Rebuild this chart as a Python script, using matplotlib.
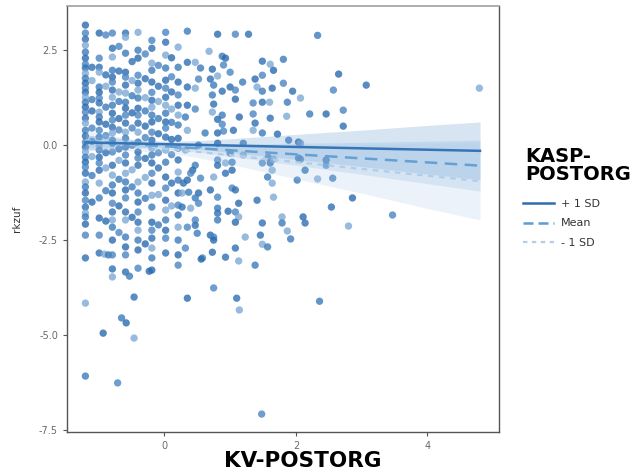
import matplotlib.pyplot as plt
from matplotlib.lines import Line2D
import numpy as np

plt.rcParams['axes.unicode_minus'] = False

# scatter data, grouped roughly by column of KV-POSTORG
kv_postorg = (
    [-1.20] * 40
    + [-0.99] * 23 + [-0.91, -0.85, -0.93]
    + [-0.79] * 28 + [-0.65, -0.58, -0.71]
    + [-0.59] * 26
    + [-0.40] * 24 + [-0.46, -0.46, -0.53, -0.23]
    + [-0.19] * 25
    + [0.02] * 22
    + [0.21] * 19
    + [-1.10] * 9 + [-0.89] * 10 + [-0.69] * 11 + [-0.49] * 9
    + [-0.29] * 10 + [-0.09] * 9 + [0.11] * 9
    + [0.35, 0.81, 1.08, 1.28, 0.68, 0.88, 0.93, 0.90, 0.35, 0.47, 0.55, 0.73,
       1.00, 1.49, 1.61, 1.81, 1.66, 0.52, 0.70, 0.81, 1.19, 1.38, 1.49, 0.35,
       0.47, 0.75, 1.00, 1.08, 0.88, 1.41, 1.49, 1.64, 1.81, 1.95, 2.07, 0.73,
       1.08, 1.35, 1.49, 1.60, 1.87, 0.35, 0.47, 0.75, 0.73, 0.88, 1.14, 1.35,
       1.61, 1.86, 0.32, 0.81, 0.88, 1.38, 0.35, 0.62, 0.81, 0.90, 1.05, 1.35,
       1.49, 1.72, 1.89, 2.04]
    + [0.32, 0.52, 0.81, 1.20, 1.00, 1.20, 1.58, 2.04, 0.81, 0.81, 0.93, 1.03,
       1.03, 1.49, 1.61, 1.64, 0.47, 0.43, 0.40, 0.93, 0.75, 1.57, 0.35, 0.55,
       0.29, 1.64, 2.02, 0.70, 1.03, 1.08, 0.27, 0.37, 0.52, 0.81, 1.41, 1.66,
       0.47, 1.13, 0.52, 0.27, 0.40, 0.81, 0.97, 1.08, 0.81, 1.13, 0.81, 1.08,
       0.47, 1.49, 1.79, 1.79, 2.11, 0.35, 0.47, 1.87, 0.50, 0.70, 0.75, 1.46,
       1.23, 1.92, 0.75, 0.32, 1.08, 1.49, 1.57, 0.73, 0.58, 0.93, 1.13, 1.38]
    + [0.35, 0.75, 1.10, 1.14, 2.36, 0.56, 1.48, 2.54, 2.80,
       2.33, 2.65, 2.57, 3.07, 4.79, 2.21, 2.46, 2.72, 2.72, 2.07, 2.07, 2.46,
       2.46, 2.14, 2.33, 2.56, 2.86, 3.47, 2.14, 1.66]
)

rkzuf = (
    [3.16, 2.95, 2.79, 2.63, 2.45, 2.29, 2.13, 2.03, 1.89, 1.76, 1.63, 1.50,
     1.39, 1.26, 1.13, 1.00, 0.87, 0.71, 0.58, 0.39, 0.24, 0.08, -0.05, -0.18,
     -0.32, -0.45, -0.58, -0.74, -0.97, -1.10, -1.26, -1.45, -1.63, -1.79,
     -1.89, -2.08, -2.37, -2.97, -4.16, -6.08]
    + [2.95, 2.29, 2.05, 1.92, 1.53, 1.39, 1.24, 1.11, 0.87, 0.74, 0.61, 0.39,
       0.21, 0.00, -0.13, -0.32, -0.47, -0.66, -1.00, -1.39, -1.92, -2.37, -2.84,
       -2.87, -2.89, -4.95]
    + [2.95, 2.55, 2.32, 1.97, 1.79, 1.66, 1.45, 1.26, 1.05, 0.84, 0.66, 0.47,
       0.32, 0.13, 0.05, -0.18, -0.53, -0.79, -1.05, -1.26, -1.53, -1.76, -1.97,
       -2.16, -2.50, -2.89, -3.26, -3.47, -4.55, -4.68, -6.26]
    + [2.95, 2.84, 2.42, 1.92, 1.79, 1.58, 1.37, 1.13, 0.97, 0.79, 0.58, 0.34,
       0.18, -0.05, -0.26, -0.47, -0.74, -0.97, -1.18, -1.39, -1.76, -1.97, -2.42,
       -2.68, -2.89, -3.34]
    + [2.97, 2.50, 2.29, 1.84, 1.63, 1.45, 1.24, 0.97, 0.79, 0.58, 0.34, 0.08,
       -0.18, -0.34, -0.53, -0.97, -1.26, -1.50, -1.76, -2.03, -2.24, -2.50,
       -2.76, -3.24, -4.00, -5.08, -3.45, -3.32]
    + [2.76, 2.55, 2.16, 1.97, 1.66, 1.39, 1.18, 1.00, 0.79, 0.61, 0.34, 0.13,
       -0.08, -0.26, -0.47, -0.74, -1.00, -1.32, -1.63, -2.03, -2.24, -2.45,
       -2.71, -2.97, -3.29]
    + [2.97, 2.71, 2.37, 2.03, 1.71, 1.50, 1.26, 1.05, 0.84, 0.61, 0.45, 0.21,
       -0.13, -0.45, -0.84, -1.13, -1.45, -1.71, -1.97, -2.24, -2.45, -2.84]
    + [2.58, 2.05, 1.66, 1.32, 1.05, 0.79, 0.53, 0.18, -0.08, -0.39, -0.71,
       -0.92, -1.26, -1.58, -1.84, -2.16, -2.50, -2.89, -3.16]
    + [2.05, 1.70, 1.20, 0.90, 0.45, 0.10, -0.30, -0.80, -1.50]
    + [2.90, 1.85, 1.55, 1.00, 0.55, 0.25, -0.20, -0.60, -1.20, -2.00]
    + [2.60, 1.95, 1.40, 1.15, 0.70, 0.40, -0.10, -0.40, -0.90, -1.60, -2.30]
    + [2.20, 1.70, 1.30, 0.85, 0.45, 0.00, -0.65, -1.10, -1.90]
    + [2.40, 1.75, 1.25, 0.90, 0.50, 0.20, -0.35, -0.85, -1.40, -2.60]
    + [2.10, 1.55, 1.15, 0.70, 0.30, -0.20, -0.60, -1.30, -2.10]
    + [2.30, 1.80, 1.40, 0.95, 0.60, 0.15, -0.25, -1.00, -1.60]
    + [3.00, 2.92, 2.92, 2.92, 2.47, 2.34, 2.29, 2.11, 2.18, 2.18, 2.03, 2.00,
       1.92, 2.21, 2.13, 2.26, 1.97, 1.74, 1.74, 1.82, 1.66, 1.74, 1.84, 1.53,
       1.50, 1.58, 1.53, 1.45, 1.42, 1.53, 1.42, 1.50, 1.63, 1.42, 1.24, 1.32,
       1.21, 1.11, 1.13, 1.13, 1.13, 1.05, 0.95, 1.08, 0.87, 0.79, 0.74, 0.82,
       0.71, 0.76, 0.74, 0.68, 0.55, 0.58, 0.39, 0.32, 0.32, 0.37, 0.39, 0.39,
       0.32, 0.29, 0.13, 0.08]
    + [-0.13, 0.00, 0.05, 0.05, -0.21, -0.26, -0.32, -0.34, -0.39, -0.53, -0.47,
       -0.45, -0.66, -0.47, -0.47, -0.66, -0.53, -0.66, -0.74, -0.74, -0.84,
       -0.84, -0.92, -0.87, -1.00, -1.00, -0.92, -1.18, -1.13, -1.18, -1.26,
       -1.24, -1.26, -1.37, -1.45, -1.37, -1.39, -1.53, -1.53, -1.63, -1.66,
       -1.66, -1.74, -1.76, -1.79, -1.89, -1.97, -2.03, -1.97, -2.05, -1.89,
       -2.05, -1.89, -2.16, -2.11, -2.26, -2.32, -2.37, -2.42, -2.37, -2.42,
       -2.47, -2.50, -2.71, -2.71, -2.61, -2.68, -2.82, -2.97, -2.95, -3.05,
       -3.16]
    + [-4.03, -3.76, -4.03, -4.34, -4.11, -3.00, -7.08, -1.63, -2.13,
       2.89, 1.87, 1.45, 1.58, 1.50, 0.82, 0.82, 0.92, 0.50, 0.05, -0.37, -0.39,
       -0.53, -0.66, -0.89, -0.87, -1.39, -1.84, -2.05, -0.37]
)

# simple slopes for KASP-POSTORG (+1 SD, mean, -1 SD)
line_x = [-1.2, 4.8]
plus_sd_y = [0.07, -0.15]
mean_y = [0.10, -0.54]
minus_sd_y = [0.13, -0.95]

# half widths of the confidence bands
band_x = [-1.2, -0.5, 0.0, 0.5, 1.0, 2.0, 3.0, 4.0, 4.8]
plus_sd_hw = [0.20, 0.11, 0.08, 0.11, 0.18, 0.33, 0.48, 0.64, 0.76]
mean_hw = [0.17, 0.10, 0.07, 0.10, 0.16, 0.29, 0.42, 0.56, 0.67]
minus_sd_hw = [0.27, 0.15, 0.11, 0.15, 0.24, 0.44, 0.64, 0.86, 1.02]

shades = ['#2a6aae', '#4a85c2', '#2f70b3', '#7fa9d4', '#3b7bbb']
point_colors = [shades[i % len(shades)] for i in range(len(kv_postorg))]

fig = plt.figure(figsize=(6.35, 4.71), dpi=100)
ax = fig.add_axes([0.1055, 0.083, 0.6805, 0.904])

ax.scatter(kv_postorg, rkzuf, s=28, c=point_colors, alpha=0.8, linewidths=0, zorder=2)

bx = np.array(band_x)
bands = [
    (plus_sd_y, plus_sd_hw, '#4a86c5', 0.22),
    (mean_y, mean_hw, '#7fb0dc', 0.22),
    (minus_sd_y, minus_sd_hw, '#a6c8e6', 0.22),
]
for ys, hw, col, a in bands:
    centre = np.interp(bx, line_x, ys)
    ax.fill_between(bx, centre - np.array(hw), centre + np.array(hw),
                    color=col, alpha=a, linewidth=0, zorder=3)

ax.plot(line_x, minus_sd_y, color='#b3cde8', lw=1.6, dashes=(2.5, 2.5), zorder=4)
ax.plot(line_x, mean_y, color='#66a0d3', lw=1.8, dashes=(5, 3), zorder=4)
ax.plot(line_x, plus_sd_y, color='#3575b5', lw=1.8, zorder=4)

ax.set_xlim(-1.48, 5.09)
ax.set_ylim(-7.55, 3.66)
ax.set_xticks([0, 2, 4])
ax.set_yticks([2.5, 0.0, -2.5, -5.0, -7.5])
ax.set_yticklabels(['2.5', '0.0', '-2.5', '-5.0', '-7.5'])
ax.tick_params(length=3, width=0.8, color='#555555', labelcolor='#6a6a6a', labelsize=7)
for side in ['left', 'bottom', 'right']:
    ax.spines[side].set_color('#555555')
    ax.spines[side].set_linewidth(1.0)
ax.spines['top'].set_color('#a0a0a0')
ax.spines['top'].set_linewidth(1.2)

ax.set_ylabel('rkzuf', fontsize=7.5, color='#333333', labelpad=12)

fig.text(0.477, 0.009, 'KV-POSTORG', ha='center', va='baseline',
         fontsize=15.5, fontweight='bold')

# legend
fig.text(525 / 635, 1 - 162 / 471, 'KASP-', ha='left', va='baseline',
         fontsize=14, fontweight='bold')
fig.text(525 / 635, 1 - 180 / 471, 'POSTORG', ha='left', va='baseline',
         fontsize=14, fontweight='bold')
handles = [
    Line2D([], [], color='#2f6eae', lw=1.8),
    Line2D([], [], color='#5d9bd0', lw=1.8, dashes=(4, 2)),
    Line2D([], [], color='#b7cde6', lw=1.6, dashes=(2, 2)),
]
fig.legend(handles, ['+ 1 SD', 'Mean', '- 1 SD'], loc='upper left',
           bbox_to_anchor=(523 / 635, 1 - 199 / 471), frameon=False,
           fontsize=8, handlelength=2.8, handletextpad=0.6, labelspacing=0.85,
           borderpad=0, borderaxespad=0, labelcolor='#333333')

fig.savefig('out.png', dpi=100)
